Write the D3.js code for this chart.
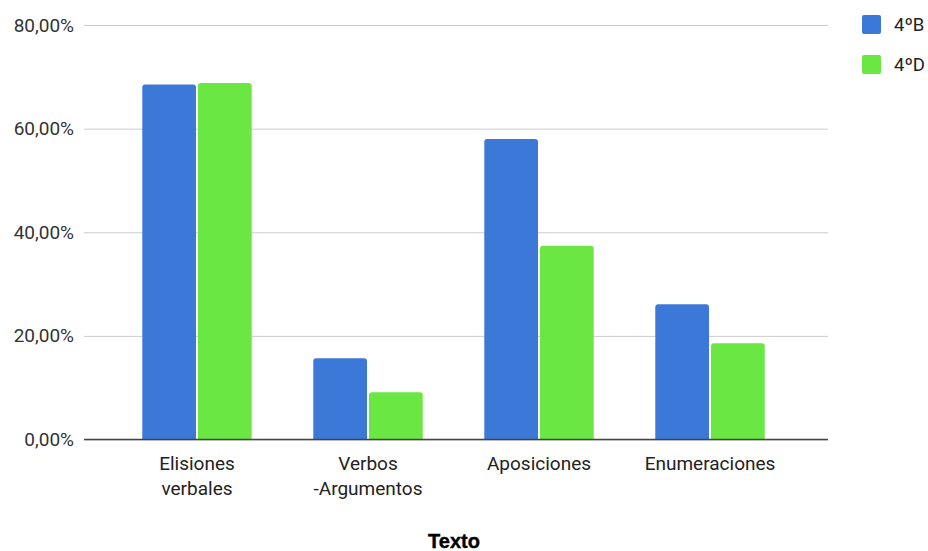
<!DOCTYPE html>
<html>
<head>
<meta charset="utf-8">
<script src="https://cdn.jsdelivr.net/npm/d3@7/dist/d3.min.js"></script>
<style>
  html, body { margin: 0; padding: 0; background: #fff; }
  svg { display: block; }
</style>
</head>
<body>
<svg id="chart" width="928" height="551"></svg>
<script>
// Category labels (line breaks split with "\n")
const categories = ["Elisiones\nverbales", "Verbos\n-Argumentos", "Aposiciones", "Enumeraciones"];
// Series
const seriesNames = ["4ºB", "4ºD"];
const valuesB = [68.5, 15.7, 58.0, 26.1];
const valuesD = [68.8, 9.1, 37.4, 18.6];
const yTicks = [0, 20, 40, 60, 80];
const colors = ["#3c78d8", "#6ae742"];
const axisTitle = "Texto";

const svg = d3.select("#chart");
const plotTop = 25, plotBottom = 439.5, plotLeft = 84, plotRight = 828;

const y = d3.scaleLinear().domain([0, 80]).range([plotBottom, plotTop]);
const x0 = d3.scaleBand().domain(d3.range(categories.length)).range([111.5, 795.5])
  .paddingInner(0.36).paddingOuter(0.18);
const x1 = d3.scaleBand().domain(d3.range(seriesNames.length)).range([0, x0.bandwidth()]).paddingInner(0.035);

const fmt = v => d3.format(".2f")(v).replace(".", ",") + "%";

// Gridlines and tick labels
const yAxis = d3.axisLeft(y).tickValues(yTicks).tickSize(-(plotRight - plotLeft)).tickFormat(fmt).tickPadding(10);
const gy = svg.append("g").attr("transform", `translate(${plotLeft},0)`).call(yAxis);
gy.select(".domain").remove();
gy.selectAll(".tick line").attr("stroke", "#cccccc").attr("stroke-width", 1);
gy.selectAll(".tick text")
  .attr("font-family", "Roboto, sans-serif").attr("font-size", 19).attr("fill", "#333");

// Bars with slightly rounded top corners
function barPath(xL, w, yT, yB, r) {
  r = Math.min(r, (yB - yT), w / 2);
  return `M${xL},${yB}V${yT + r}Q${xL},${yT} ${xL + r},${yT}H${xL + w - r}Q${xL + w},${yT} ${xL + w},${yT + r}V${yB}Z`;
}
const series = [valuesB, valuesD];
series.forEach((vals, si) => {
  svg.append("g").selectAll("path").data(vals).join("path")
    .attr("d", (v, i) => barPath(x0(i) + x1(si), x1.bandwidth(), y(v), y(0), 3))
    .attr("fill", colors[si]);
});

// Baseline
svg.append("line").attr("x1", plotLeft).attr("x2", plotRight).attr("y1", y(0)).attr("y2", y(0))
  .attr("stroke", "#444").attr("stroke-width", 1.3);

// Category labels
const xg = svg.append("g");
categories.forEach((c, i) => {
  const cx = x0(i) + x0.bandwidth() / 2;
  const t = xg.append("text")
    .attr("x", cx).attr("y", 470)
    .attr("text-anchor", "middle")
    .attr("font-family", "Roboto, sans-serif").attr("font-size", 19).attr("fill", "#222");
  c.split("\n").forEach((line, li) => {
    t.append("tspan").attr("x", cx).attr("dy", li === 0 ? 0 : 25).text(line);
  });
});

// Axis title
svg.append("text").attr("x", 454).attr("y", 548).attr("text-anchor", "middle")
  .attr("font-family", "Arial, 'Liberation Sans', sans-serif").attr("font-weight", "bold")
  .attr("font-size", 20).attr("fill", "#000")
  .attr("stroke", "#000").attr("stroke-width", 0.4).text(axisTitle);

// Legend
const lg = svg.append("g");
seriesNames.forEach((n, i) => {
  lg.append("rect").attr("x", 862).attr("y", 15 + i * 40).attr("width", 19).attr("height", 19)
    .attr("rx", 2).attr("fill", colors[i]);
  lg.append("text").attr("x", 894).attr("y", 31 + i * 40)
    .attr("font-family", "Roboto, sans-serif").attr("font-size", 18.5).attr("fill", "#222").text(n);
});
</script>
</body>
</html>
